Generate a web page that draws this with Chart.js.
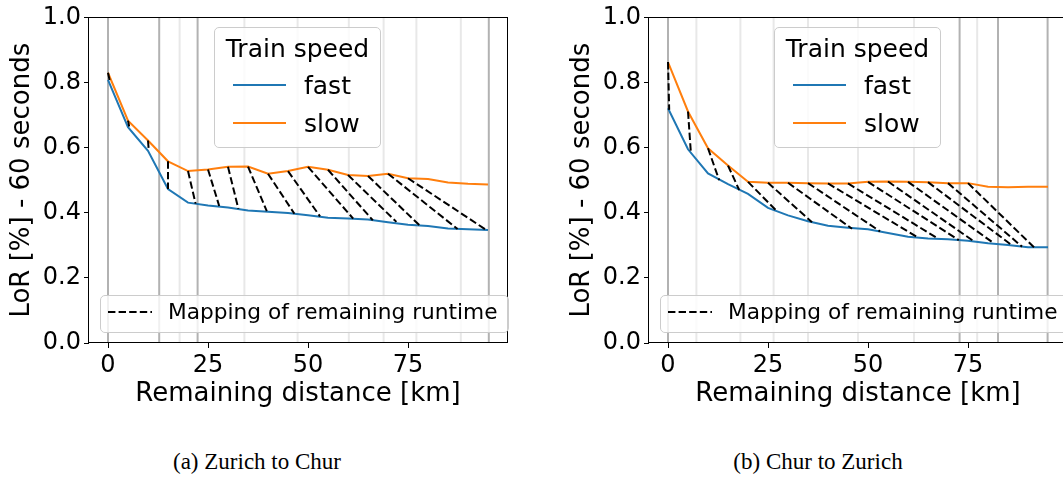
<!DOCTYPE html>
<html>
<head>
<meta charset="utf-8">
<title>LoR mapping of remaining runtime</title>
<script src="https://cdn.jsdelivr.net/npm/chart.js@4.4.1/dist/chart.umd.min.js"></script>
<style>
  html, body { margin: 0; padding: 0; background: #fff; }
  body { position: relative; width: 1063px; height: 480px; overflow: hidden; font-family: "DejaVu Sans", sans-serif; color: #000; }
  .panel { position: absolute; top: 0; width: 530px; height: 420px; }
  .panel canvas { position: absolute; left: 0; top: 0; }
  .box { position: absolute; box-sizing: border-box; background: rgba(255,255,255,0.8); border: 1px solid #cccccc; border-radius: 5px; }
  .speed { left: 214px; top: 27px; width: 167px; height: 121px; }
  .speed .title { position: absolute; left: 0; width: 100%; top: 6px; text-align: center; font-size: 25px; line-height: 30px; white-space: nowrap; }
  .speed .item { position: absolute; left: 89px; font-size: 25px; line-height: 30px; }
  .speed .handle { position: absolute; left: 18px; width: 53px; height: 2px; }
  .mapping { left: 100px; top: 295px; width: 409px; height: 38px; }
  .mapping svg { position: absolute; left: 7px; top: 14px; }
  .mapping span { position: absolute; left: 67px; top: 3.3px; font-size: 21.7px; line-height: 26px; white-space: nowrap; }
  .caption { position: absolute; top: 450px; width: 300px; text-align: center; font-family: "Liberation Serif", serif; font-size: 23px; line-height: 23px; white-space: nowrap; }
</style>
</head>
<body>

<div class="panel" style="left:0px">
  <canvas id="chartA" width="530" height="420"></canvas>
  <div class="box speed">
    <div class="title">Train speed</div>
    <div class="handle" style="top:56px; background:#1f77b4"></div>
    <div class="item" style="top:43px">fast</div>
    <div class="handle" style="top:94px; background:#ff7f0e"></div>
    <div class="item" style="top:81px">slow</div>
  </div>
  <div class="box mapping">
    <svg width="44" height="4"><line x1="0" y1="2" x2="44" y2="2" stroke="#000" stroke-width="2" stroke-dasharray="7.4 3.2"/></svg>
    <span>Mapping of remaining runtime</span>
  </div>
</div>

<div class="panel" style="left:560px">
  <canvas id="chartB" width="530" height="420"></canvas>
  <div class="box speed">
    <div class="title">Train speed</div>
    <div class="handle" style="top:56px; background:#1f77b4"></div>
    <div class="item" style="top:43px">fast</div>
    <div class="handle" style="top:94px; background:#ff7f0e"></div>
    <div class="item" style="top:81px">slow</div>
  </div>
  <div class="box mapping">
    <svg width="44" height="4"><line x1="0" y1="2" x2="44" y2="2" stroke="#000" stroke-width="2" stroke-dasharray="7.4 3.2"/></svg>
    <span>Mapping of remaining runtime</span>
  </div>
</div>

<div class="caption" style="left:107px">(a) Zurich to Chur</div>
<div class="caption" style="left:668px">(b) Chur to Zurich</div>

<script>
const km = [0, 5, 10, 15, 20, 25, 30, 35, 40, 45, 50, 55, 60, 65, 70, 75, 80, 85, 90, 95];
const xTicks = [0, 25, 50, 75];
const yTicks = [0, 0.2, 0.4, 0.6, 0.8, 1.0];

// (a) Zurich to Chur
const fastA = [0.808, 0.663, 0.590, 0.473, 0.431, 0.422, 0.416, 0.407, 0.403, 0.399, 0.392, 0.385, 0.382, 0.379, 0.371, 0.363, 0.359, 0.352, 0.349, 0.347];
const slowA = [0.830, 0.683, 0.622, 0.558, 0.528, 0.533, 0.541, 0.542, 0.520, 0.528, 0.541, 0.532, 0.516, 0.513, 0.520, 0.506, 0.504, 0.493, 0.489, 0.487];
const mapFromA = [0, 5, 10, 15, 20, 25, 30, 35, 40, 45, 50, 55, 60, 65, 70, 75];
const mapToKmA = [0.4, 5.3, 10.2, 15, 21.9, 27.8, 32.6, 39.7, 46.6, 53, 61.3, 66.2, 72.1, 78, 87.4, 94.6];
const mapToLoRA = [0.808, 0.665, 0.590, 0.473, 0.428, 0.421, 0.412, 0.405, 0.397, 0.389, 0.382, 0.377, 0.372, 0.360, 0.350, 0.347];
const stopsA = [0, 12.8, 22.4, 95.2];
const passesA = [17.9, 34.1, 47.4, 60.2, 68.9, 77.1, 88.2];

// (b) Chur to Zurich
const fastB = [0.721, 0.595, 0.521, 0.488, 0.458, 0.415, 0.392, 0.374, 0.360, 0.354, 0.349, 0.338, 0.326, 0.321, 0.319, 0.314, 0.306, 0.301, 0.294, 0.294];
const slowB = [0.863, 0.711, 0.598, 0.545, 0.495, 0.492, 0.492, 0.491, 0.490, 0.490, 0.495, 0.496, 0.495, 0.494, 0.491, 0.491, 0.480, 0.478, 0.480, 0.480];
const mapFromB = [0, 5, 10, 15, 20, 25, 30, 35, 40, 45, 50, 55, 60, 65, 70, 75];
const mapToKmB = [0.3, 5.7, 12.8, 17.8, 27.2, 36, 46, 53, 62.6, 67.6, 72.7, 76.5, 81.5, 86, 88.5, 91.5];
const mapToLoRB = [0.716, 0.588, 0.500, 0.470, 0.405, 0.371, 0.351, 0.343, 0.323, 0.320, 0.316, 0.312, 0.306, 0.300, 0.296, 0.294];
const stopsB = [0, 72.9, 82.5, 94.9];
const passesB = [7.1, 18.1, 26.4, 35, 47.5, 61.5, 77.3];

const FONT = '"DejaVu Sans", sans-serif';

// matplotlib draws all four spines, Chart.js only the axis borders
const framePlugin = {
    id: 'frame',
    afterDatasetsDraw(chart) {
        const { ctx, chartArea: a } = chart;
        ctx.save();
        ctx.strokeStyle = '#000';
        ctx.lineWidth = 1;
        ctx.strokeRect(Math.round(a.left) - 0.5, Math.round(a.top) + 0.5, Math.round(a.right - a.left) + 1, Math.round(a.bottom - a.top) - 1);
        ctx.restore();
    }
};

function verticalLines(kms) {
    const pts = [];
    kms.forEach(k => pts.push({ x: k, y: 0 }, { x: k, y: 1 }, { x: k, y: null }));
    return pts;
}

function mappingLines(from, slow, toKm, toLoR) {
    const pts = [];
    from.forEach((k, i) => {
        pts.push({ x: k, y: slow[km.indexOf(k)] }, { x: toKm[i], y: toLoR[i] }, { x: toKm[i], y: null });
    });
    return pts;
}

function buildChart(id, fast, slow, mapFrom, mapToKm, mapToLoR, stops, passes) {
    const ctx = document.getElementById(id).getContext('2d');
    const datasets = [
        { data: mappingLines(mapFrom, slow, mapToKm, mapToLoR), borderColor: '#000', borderWidth: 2, borderDash: [7.4, 3.2], spanGaps: false },
        { data: km.map((k, i) => ({ x: k, y: slow[i] })), borderColor: '#ff7f0e', borderWidth: 2 },
        { data: km.map((k, i) => ({ x: k, y: fast[i] })), borderColor: '#1f77b4', borderWidth: 2 },
        { data: verticalLines(stops), borderColor: '#b2b2b2', borderWidth: 2, spanGaps: false },
        { data: verticalLines(passes), borderColor: '#e8e8e8', borderWidth: 2, spanGaps: false }
    ];

    return new Chart(ctx, {
        type: 'line',
        data: { datasets: datasets },
        plugins: [framePlugin],
        options: {
            responsive: false,
            animation: false,
            events: [],
            layout: { padding: { left: 0, top: 15, right: 23, bottom: 0 } },
            elements: { point: { radius: 0 }, line: { tension: 0, borderCapStyle: 'butt', fill: false } },
            plugins: { legend: { display: false }, tooltip: { enabled: false } },
            scales: {
                x: {
                    type: 'linear', min: -4.75, max: 99.75,
                    afterFit: s => { s.height = 77; },
                    afterBuildTicks: s => { s.ticks = xTicks.map(v => ({ value: v })); },
                    ticks: { color: '#000', padding: 3, maxRotation: 0, font: { family: FONT, size: 24, lineHeight: 1.2 } },
                    grid: { drawOnChartArea: false, drawTicks: true, tickLength: 5, tickColor: '#000', tickWidth: 1 },
                    border: { display: false },
                    title: { display: true, text: 'Remaining distance [km]', color: '#000', font: { family: FONT, size: 26, lineHeight: 1.2 }, padding: { top: 0, bottom: 10 } }
                },
                y: {
                    type: 'linear', min: 0, max: 1,
                    afterFit: s => { s.width = 89; },
                    afterBuildTicks: s => { s.ticks = yTicks.map(v => ({ value: v })); },
                    ticks: { color: '#000', padding: 3, font: { family: FONT, size: 24, lineHeight: 1.2 }, callback: v => v.toFixed(1) },
                    grid: { drawOnChartArea: false, drawTicks: true, tickLength: 5, tickColor: '#000', tickWidth: 1 },
                    border: { display: false },
                    title: { display: true, text: 'LoR [%] - 60 seconds', color: '#000', font: { family: FONT, size: 26, lineHeight: 1.2 }, padding: { top: 7, bottom: 0 } }
                }
            }
        }
    });
}

buildChart('chartA', fastA, slowA, mapFromA, mapToKmA, mapToLoRA, stopsA, passesA);
buildChart('chartB', fastB, slowB, mapFromB, mapToKmB, mapToLoRB, stopsB, passesB);
</script>
</body>
</html>
